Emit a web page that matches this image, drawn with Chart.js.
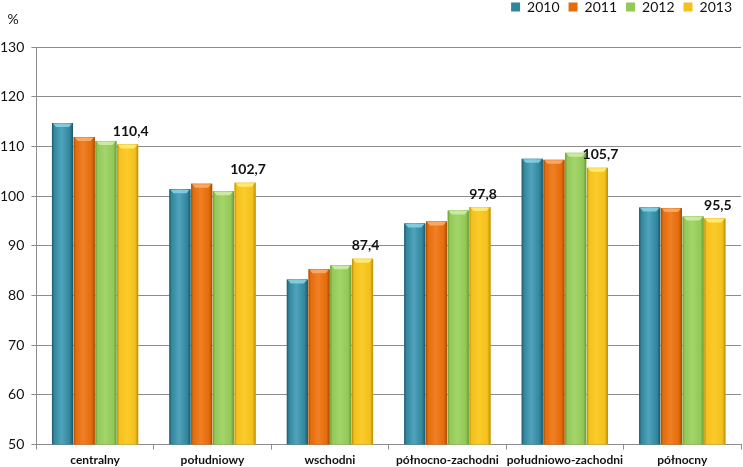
<!DOCTYPE html>
<html>
<head>
<meta charset="utf-8">
<script src="https://cdn.jsdelivr.net/npm/chart.js@4.4.1/dist/chart.umd.min.js"></script>
<style>
html,body{margin:0;padding:0;background:#fff;}
#wrap{width:743px;height:467px;position:relative;}
</style>
</head>
<body>
<div id="wrap"><canvas id="c" width="743" height="467"></canvas></div>
<script>
const categories = ['centralny','południowy','wschodni','północno-zachodni','południowo-zachodni','północny'];
const years = ['2010','2011','2012','2013'];
const v2010 = [114.7, 101.4, 83.2, 94.5, 107.5, 97.7];
const v2011 = [111.9, 102.5, 85.3, 94.9, 107.3, 97.6];
const v2012 = [111.1, 101.0, 86.1, 97.1, 108.7, 95.9];
const v2013 = [110.4, 102.7, 87.4, 97.8, 105.7, 95.5];
const yTicks = [50, 60, 70, 80, 90, 100, 110, 120, 130];

const palette = [
  {base:'#31859C', light:'#4FA3BA', dark:'#1E5664', top:'#8AD3E8'},
  {base:'#E46C0A', light:'#F07F25', dark:'#A34C06', top:'#FBB070'},
  {base:'#92C957', light:'#A4D46C', dark:'#6A9A34', top:'#D2EDAC'},
  {base:'#F4C01C', light:'#FACB2A', dark:'#B88F0A', top:'#FFF07A'}
];
const series = [v2010, v2011, v2012, v2013];
const FONT = 'Lato, "Open Sans", sans-serif';

const legendSpace = {
  id: 'legendSpace',
  beforeInit(chart) {
    const fit = chart.legend.fit;
    chart.legend.fit = function () {
      fit.bind(chart.legend)();
      this.height += 23;
    };
  }
};

const barStyle = {
  id: 'barStyle',
  afterDatasetsDraw(chart) {
    const ctx = chart.ctx;
    const area = chart.chartArea;
    ctx.save();
    ctx.beginPath();
    ctx.rect(area.left, area.top - 40, area.right - area.left, area.bottom - area.top + 40);
    ctx.clip();
    chart.data.datasets.forEach((ds, i) => {
      const meta = chart.getDatasetMeta(i);
      const p = palette[i];
      meta.data.forEach(el => {
        const l = el.x - el.width / 2, r = el.x + el.width / 2;
        const bottom = Math.min(el.base, area.bottom);
        const g = ctx.createLinearGradient(l, 0, r, 0);
        g.addColorStop(0, p.dark);
        g.addColorStop(0.1, p.base);
        g.addColorStop(0.45, p.light);
        g.addColorStop(0.85, p.base);
        g.addColorStop(1, p.dark);
        ctx.fillStyle = g;
        ctx.fillRect(l, el.y, r - l, bottom - el.y);
        ctx.fillStyle = p.top;
        ctx.globalAlpha = 0.85;
        ctx.beginPath();
        ctx.moveTo(l + 1, el.y + 0.5);
        ctx.lineTo(r - 1, el.y + 0.5);
        ctx.lineTo(r - 4, el.y + 4);
        ctx.lineTo(l + 4, el.y + 4);
        ctx.closePath();
        ctx.fill();
        ctx.globalAlpha = 1;
      });
    });
    // data labels for the last series
    const last = chart.data.datasets.length - 1;
    const meta = chart.getDatasetMeta(last);
    ctx.font = 'bold 14px ' + FONT;
    ctx.textAlign = 'center';
    ctx.textBaseline = 'bottom';
    ctx.fillStyle = '#111';
    meta.data.forEach((el, j) => {
      const txt = chart.data.datasets[last].data[j].toFixed(1).replace('.', ',');
      ctx.fillText(txt, el.x + 3, el.y - 6);
    });
    ctx.restore();
    // unit label
    ctx.save();
    ctx.font = '14px ' + FONT;
    ctx.fillStyle = '#111';
    ctx.textAlign = 'center';
    ctx.textBaseline = 'middle';
    ctx.fillText('%', 13, 19);
    ctx.restore();
  }
};

new Chart(document.getElementById('c'), {
  type: 'bar',
  data: {
    labels: categories,
    datasets: years.map((y, i) => ({
      label: y,
      data: series[i],
      backgroundColor: palette[i].base,
      borderWidth: 0,
      categoryPercentage: 0.74,
      barPercentage: 0.97
    }))
  },
  options: {
    responsive: false,
    animation: false,
    layout: {padding: {top: -9, right: 2, bottom: -3, left: -7}},
    plugins: {
      legend: {
        position: 'top',
        align: 'end',
        labels: {
          boxWidth: 9, boxHeight: 9, padding: 9,
          color: '#111',
          font: {family: FONT, size: 14}
        }
      },
      tooltip: {enabled: false}
    },
    scales: {
      x: {
        grid: {display: true, drawOnChartArea: false, drawTicks: true, tickLength: 5, color: '#8c8c8c', offset: true},
        border: {color: '#8c8c8c'},
        ticks: {color: '#111', padding: 3, autoSkip: false, maxRotation: 0, minRotation: 0,
                font: {family: FONT, size: 12, weight: 'bold'}}
      },
      y: {
        min: 50, max: 130,
        afterBuildTicks(scale) { scale.ticks = yTicks.map(v => ({value: v})); },
        grid: {color: '#8c8c8c', tickLength: 5, drawTicks: true},
        border: {color: '#8c8c8c'},
        ticks: {color: '#111', padding: 7, font: {family: FONT, size: 14}}
      }
    }
  },
  plugins: [legendSpace, barStyle]
});
</script>
</body>
</html>
